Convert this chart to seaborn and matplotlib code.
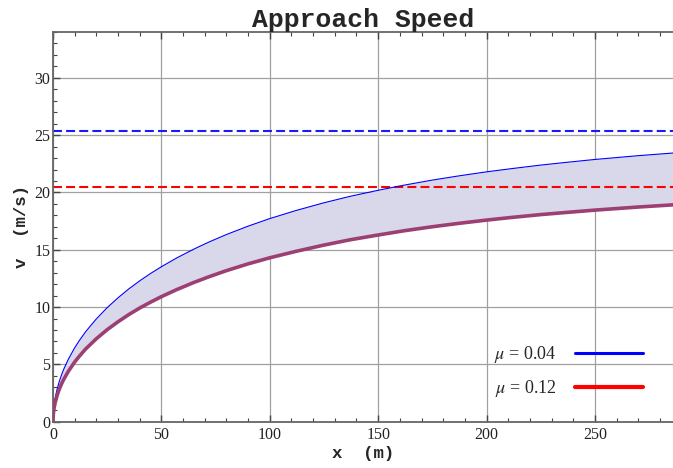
""" Approach speed plot: v(x) for two friction coefficients. """
import numpy as np
import pandas as pd
import seaborn as sns
import matplotlib
matplotlib.use("Agg")
import matplotlib.pyplot as plt
from matplotlib.lines import Line2D
from matplotlib.ticker import MultipleLocator

# values
x_m = [0, 0.1, 0.25, 0.5, 1, 2, 3, 4, 5, 7, 10, 12, 15, 20, 25, 30, 35,
       40, 45, 50, 57, 65, 72, 80, 90, 100, 112, 125, 137, 150, 162, 175,
       187, 200, 212, 225, 237, 250, 270, 286]
v_low_mu = [0, 0.66, 1.04, 1.47, 2.07, 2.92, 3.57, 4.12, 4.60, 5.42,
            6.45, 7.04, 7.84, 8.97, 9.95, 10.81, 11.59, 12.29, 12.93,
            13.52, 14.28, 15.06, 15.68, 16.33, 17.06, 17.72, 18.42, 19.10,
            19.66, 20.19, 20.64, 21.08, 21.44, 21.80, 22.09, 22.39, 22.63,
            22.88, 23.21, 23.44]
v_high_mu = [0, 0.53, 0.84, 1.19, 1.67, 2.36, 2.88, 3.33, 3.71, 4.37,
             5.21, 5.68, 6.33, 7.24, 8.03, 8.72, 9.35, 9.92, 10.43, 10.91,
             11.52, 12.15, 12.65, 13.18, 13.77, 14.30, 14.86, 15.41, 15.87,
             16.29, 16.66, 17.01, 17.30, 17.59, 17.83, 18.07, 18.26, 18.46,
             18.73, 18.92]
terminal_low_mu = 25.4
terminal_high_mu = 20.5
labels = [r"$\mu$ = 0.04", r"$\mu$ = 0.12"]

sns.set_style("white")
plt.rcParams["mathtext.fontset"] = "stix"

dframe = pd.DataFrame({"x": x_m + x_m,
                       "v": v_low_mu + v_high_mu,
                       "mu": ["0.04"] * len(x_m) + ["0.12"] * len(x_m)})

fig = plt.figure(figsize=(6.73, 4.68), dpi=100)
ax = fig.add_axes([53 / 673, 46.3 / 468, 620 / 673, 389.7 / 468])

ax.fill_between(x_m, v_high_mu, v_low_mu, color="#d8d8ea", lw=0, zorder=1)
sns.lineplot(data=dframe, x="x", y="v", hue="mu", size="mu",
             palette={"0.04": "#0000ff", "0.12": "#9c3f73"},
             sizes={"0.04": 0.8, "0.12": 2.6},
             legend=False, ax=ax, zorder=3)
for line in ax.get_lines():
    line.set_solid_joinstyle("round")
ax.axhline(terminal_low_mu, color="#1a1aff", lw=1.5, dashes=(4.3, 2), zorder=2)
ax.axhline(terminal_high_mu, color="#ff0000", lw=1.5, dashes=(4.3, 2), zorder=2)

ax.set_xlim(0, 286)
ax.set_ylim(0, 34)
ax.xaxis.set_major_locator(MultipleLocator(50))
ax.xaxis.set_minor_locator(MultipleLocator(10))
ax.yaxis.set_major_locator(MultipleLocator(5))
ax.yaxis.set_minor_locator(MultipleLocator(1))
ax.grid(True, which="major", color="#a0a0a0", lw=0.9, zorder=0)
ax.set_axisbelow(True)

for side in ["left", "bottom", "top"]:
    ax.spines[side].set_visible(True)
    ax.spines[side].set_color("#666666")
    ax.spines[side].set_linewidth(1.3)
ax.spines["right"].set_visible(False)

ax.tick_params(which="major", direction="in", length=5, width=1,
               color="#444444", top=True, left=True, bottom=True)
ax.tick_params(which="minor", direction="in", length=3, width=0.8,
               color="#444444", top=True, left=True, bottom=True)
ax.tick_params(axis="x", pad=4)
ax.tick_params(axis="y", pad=2)
for lab in ax.get_xticklabels() + ax.get_yticklabels():
    lab.set_fontfamily("Liberation Serif")
    lab.set_fontsize(11.5)
    lab.set_color("#222222")

ax.set_title("Approach Speed", fontfamily="Liberation Mono",
             fontweight="bold", fontsize=19, pad=3)
ax.set_xlabel("x  (m)", fontfamily="Liberation Mono", fontweight="bold",
              fontsize=12.5, labelpad=2)
ax.set_ylabel("v  (m/s)", fontfamily="Liberation Mono", fontweight="bold",
              fontsize=12.5, labelpad=4)

handles = [Line2D([], [], color="#0000ff", lw=2.2),
           Line2D([], [], color="#ff0000", lw=3.0)]
ax.legend(handles, labels, loc="lower right", frameon=False,
          markerfirst=False, handlelength=3.8, handletextpad=1.0,
          labelspacing=0.75, borderpad=0, borderaxespad=0,
          bbox_to_anchor=(0.952, 0.057),
          prop={"family": "Liberation Serif", "size": 13})

fig.savefig("out.png", dpi=100)
